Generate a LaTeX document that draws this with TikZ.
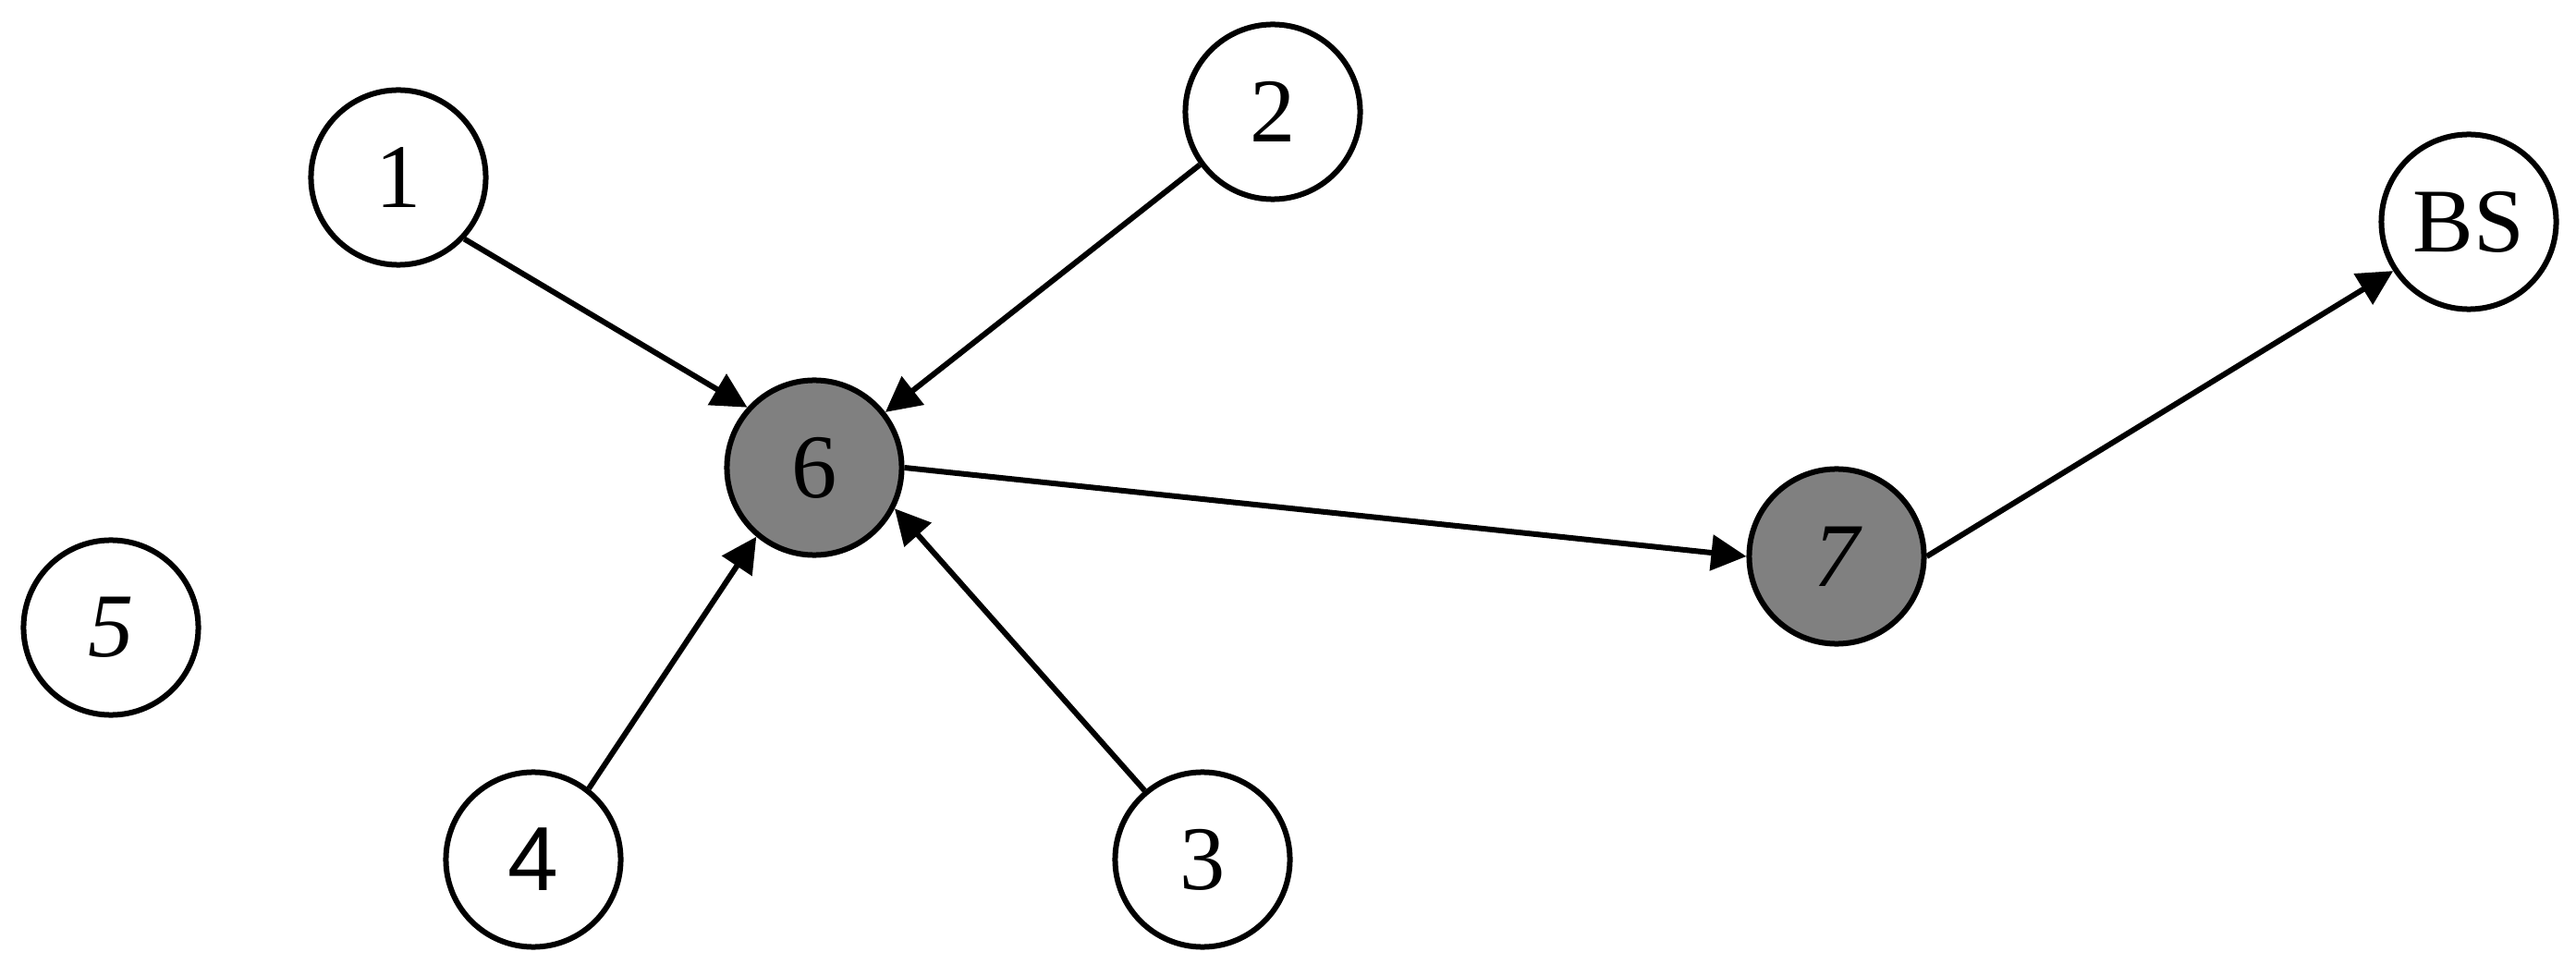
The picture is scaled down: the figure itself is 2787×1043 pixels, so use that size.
\documentclass[tikz,border=0pt]{standalone}
\usepackage{fontspec}
\setmainfont{Liberation Serif}
\newfontfamily\sansdigit{Liberation Sans}
\usetikzlibrary{arrows.meta}
\begin{document}
\begin{tikzpicture}[x=0.01cm,y=-0.01cm,
  nd/.style={circle,draw=black,line width=0.06cm,minimum size=1.89cm,inner sep=0pt,fill=white,
    font=\fontsize{28}{28}\selectfont},
  hub/.style={nd,fill=black!50},
  link/.style={line width=0.06cm,-{Triangle[length=0.38cm,width=0.38cm]}}]
\useasboundingbox (0,0) rectangle (2787,1043);
\node[nd] (n1) at (431,192) {1};
\node[nd] (n2) at (1377,121) {2};
\node[nd] (n3) at (1301,930) {3};
\node[nd] (n4) at (577,930) {\sansdigit 4};
\node[nd] (n5) at (120,679) {\itshape 5};
\node[hub] (n6) at (881,506) {6};
\node[hub] (n7) at (1987,602) {\itshape 7};
\node[nd] (bs) at (2671,240) {BS};
\draw[link] (n1.-43) -- (n6.138);
\draw[link] (n2.-144) -- (n6.38);
\draw[link] (n3.130) -- (n6.-27);
\draw[link] (n4.52) -- (n6.-130);
\draw[link] (n6.0) -- (n7.180);
\draw[link] (n7.0) -- (bs.-147);
\end{tikzpicture}
\end{document}
